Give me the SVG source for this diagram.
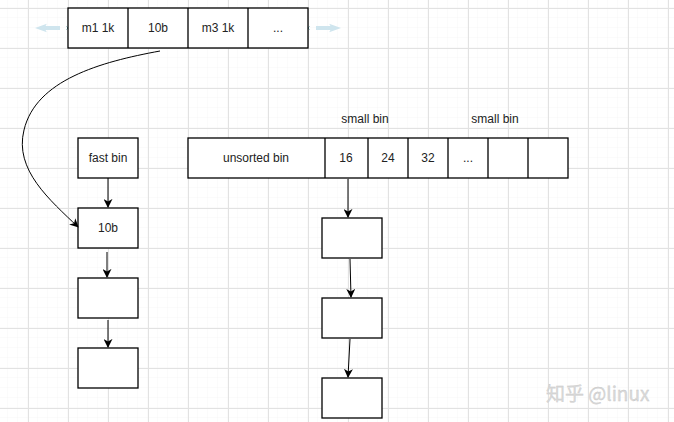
<svg xmlns="http://www.w3.org/2000/svg" width="674" height="422" viewBox="0 0 674 422">
<defs>
<pattern id="minor" x="8" y="8" width="10" height="10" patternUnits="userSpaceOnUse">
<path d="M10 0V10M0 10H10" fill="none" stroke="#f6f6f6" stroke-width="1"/>
</pattern>
<pattern id="major" x="28" y="8" width="40" height="40" patternUnits="userSpaceOnUse">
<path d="M0.5 0V40M0 0.5H40" fill="none" stroke="#e2e2e2" stroke-width="1"/>
</pattern>
<marker id="ah" viewBox="0 0 10 10" refX="9" refY="5" markerWidth="9" markerHeight="9" markerUnits="userSpaceOnUse" orient="auto">
<path d="M0 0L10 5L0 10L3 5Z" fill="#000"/>
</marker>
<marker id="hb" viewBox="0 0 10 10" refX="4" refY="5" markerWidth="12" markerHeight="12" markerUnits="userSpaceOnUse" orient="auto">
<path d="M0 1.5L10 5L0 8.5L2 5Z" fill="#cfe5ee"/>
</marker>
</defs>
<style>
.b{fill:#fff;stroke:#000;stroke-width:1.3}
.t{font-family:"Liberation Sans",Arial,sans-serif;font-size:12px;fill:#222;text-anchor:middle;dominant-baseline:central}
.c{fill:none;stroke:#000;stroke-width:1}
</style>
<rect width="674" height="422" fill="#fff"/>
<rect width="674" height="422" fill="url(#minor)"/>
<rect width="674" height="422" fill="url(#major)"/>

<g id="hover" fill="none" stroke="#cfe5ee" stroke-width="4">
<path d="M60 28H42" marker-end="url(#hb)"/>
<path d="M316 28H334" marker-end="url(#hb)"/>
<path d="M66.5 26.5l3 3M69.5 26.5l-3 3M306.5 26.5l3 3M309.5 26.5l-3 3" stroke="#3a8f9a" stroke-width="0.8"/>
</g>

<g id="top-array">
<rect class="b" x="68" y="8" width="240" height="40"/>
<path d="M128 8V48M188 8V48M248 8V48" stroke="#000" stroke-width="1.3"/>
<text class="t" x="98" y="28">m1 1k</text>
<text class="t" x="158" y="28">10b</text>
<text class="t" x="218" y="28">m3 1k</text>
<text class="t" x="278" y="28">...</text>
</g>

<g id="fastbin"><rect class="b" x="78" y="138" width="60" height="40"/><text class="t" x="108" y="158">fast bin</text></g>
<g id="fb1"><rect class="b" x="78" y="208" width="60" height="40"/><text class="t" x="108" y="228">10b</text></g>
<g id="fb2"><rect class="b" x="78" y="278" width="60" height="40"/></g>
<g id="fb3"><rect class="b" x="78" y="348" width="60" height="40"/></g>

<g id="bins">
<rect class="b" x="188" y="138" width="380" height="40"/>
<path d="M325 138V178M368 138V178M408 138V178M448 138V178M488 138V178M528 138V178" stroke="#000" stroke-width="1.3"/>
<text class="t" x="256" y="158">unsorted bin</text>
<text class="t" x="346" y="158">16</text>
<text class="t" x="388" y="158">24</text>
<text class="t" x="428" y="158">32</text>
<text class="t" x="468" y="158">...</text>
</g>
<g id="label-small1"><text class="t" x="365" y="119">small bin</text></g>
<g id="label-small2"><text class="t" x="495" y="119">small bin</text></g>

<g id="sb1"><rect class="b" x="322" y="218" width="60" height="40"/></g>
<g id="sb2"><rect class="b" x="322" y="298" width="60" height="40"/></g>
<g id="sb3"><rect class="b" x="322" y="378" width="60" height="40"/></g>

<g id="connectors">
<path class="c" d="M160 51C100 62 36 80 24 130C14 170 50 200 78 227" marker-end="url(#ah)"/>
<path class="c" d="M108 178V207" marker-end="url(#ah)"/>
<path class="c" d="M107 252L107 277" marker-end="url(#ah)"/>
<path class="c" d="M108 320V347" marker-end="url(#ah)"/>
<path class="c" d="M348 179V217" marker-end="url(#ah)"/>
<path class="c" d="M350 259L351 297" marker-end="url(#ah)"/>
<path class="c" d="M350 339L348 377" marker-end="url(#ah)"/>
</g>

<g id="watermark"><text x="546" y="401" font-family="'Noto Sans CJK SC','Liberation Sans',sans-serif" font-size="19" fill="#dadada" stroke="#c4c4c4" stroke-width="0.3">知乎 @linux</text></g>
</svg>
